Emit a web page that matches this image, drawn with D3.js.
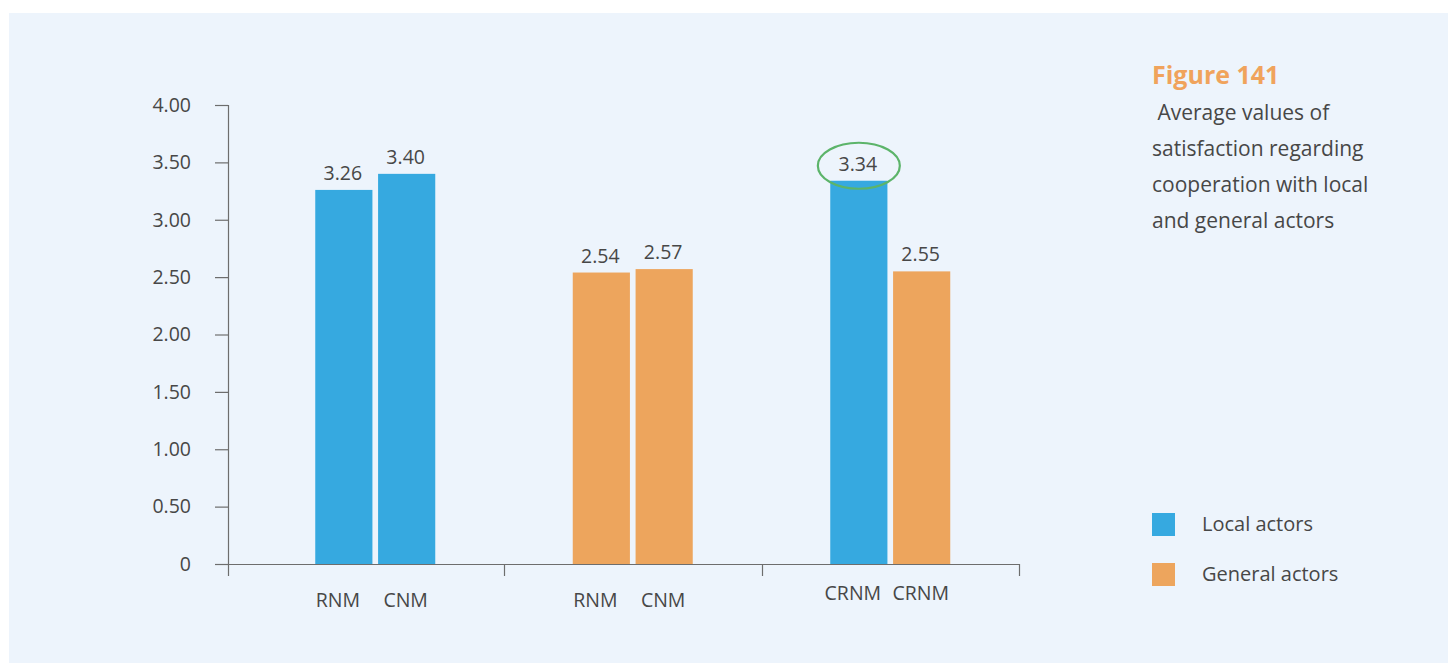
<!DOCTYPE html>
<html><head><meta charset="utf-8">
<script src="https://cdn.jsdelivr.net/npm/d3@7"></script>
<style>
html,body{margin:0;padding:0;background:#fff;}
svg{display:block;}
text{font-family:"Open Sans","Noto Sans",sans-serif;fill:#474747;}
</style></head>
<body>
<svg id="c" width="1448" height="663"></svg>
<script>
const groups = ["g1","g2","g3"];
const barLabels = [["RNM","CNM"],["RNM","CNM"],["CRNM","CRNM"]];
const barValues = [[3.26,3.40],[2.54,2.57],[3.34,2.55]];
const barSeries = [["Local actors","Local actors"],["General actors","General actors"],["Local actors","General actors"]];
const yTicks = [0,0.5,1,1.5,2,2.5,3,3.5,4];
const yTickLabels = ["0","0.50","1.00","1.50","2.00","2.50","3.00","3.50","4.00"];
const seriesNames = ["Local actors","General actors"];
const seriesColors = ["#36a9e0","#eda55d"];
const titleText = "Figure 141";
const subtitleLines = [" Average values of","satisfaction regarding","cooperation with local","and general actors"];
const highlighted = {group:2, bar:0};

const svg = d3.select("#c");
svg.append("rect").attr("x",9).attr("y",13).attr("width",1439).attr("height",650).attr("fill","#edf4fc");

const color = d3.scaleOrdinal().domain(seriesNames).range(seriesColors);
const y = d3.scaleLinear().domain([0,4]).range([564,105]);
const x0 = d3.scaleBand().domain(groups).range([246.5,1019]).paddingInner(0).paddingOuter(0);
const x1 = d3.scaleBand().domain([0,1]).range([-60,60]).paddingInner(0.09).paddingOuter(0);

const axisColor = "#6d6d6d";
const fs = "19.5px";
// y axis
const yAxis = d3.axisLeft(y).tickValues(yTicks).tickFormat((d,i)=>yTickLabels[i]).tickSize(13).tickPadding(24).tickSizeOuter(0);
const gy = svg.append("g").attr("transform","translate(228,0)").call(yAxis);
gy.select(".domain").remove();
gy.selectAll(".tick line").attr("stroke",axisColor).attr("stroke-width",1.2);
gy.selectAll(".tick text").style("font-size",fs).attr("fill","#474747");
svg.append("line").attr("x1",228.5).attr("x2",228.5).attr("y1",y(4)).attr("y2",576).attr("stroke",axisColor).attr("stroke-width",1.2);

// x axis baseline
svg.append("line").attr("x1",215).attr("x2",1019).attr("y1",564.5).attr("y2",564.5).attr("stroke",axisColor).attr("stroke-width",1.2);
const bounds = groups.map(g=>x0(g)+x0.bandwidth());
svg.selectAll(".xt").data(bounds).join("line").attr("class","xt")
  .attr("x1",d=>Math.round(d)+0.5).attr("x2",d=>Math.round(d)+0.5).attr("y1",564).attr("y2",576)
  .attr("stroke",axisColor).attr("stroke-width",1.2);

// bars
const gg = svg.selectAll(".grp").data(groups).join("g").attr("class","grp")
  .attr("transform",g=>`translate(${x0(g)+x0.bandwidth()/2},0)`);
gg.each(function(g,gi){
  const sel = d3.select(this);
  const data = barValues[gi].map((v,i)=>({v,i,label:barLabels[gi][i],series:barSeries[gi][i]}));
  sel.selectAll("rect").data(data).join("rect")
    .attr("x",d=>x1(d.i)).attr("width",x1.bandwidth())
    .attr("y",d=>y(d.v)).attr("height",d=>y(0)-y(d.v))
    .attr("fill",d=>color(d.series));
  sel.selectAll(".vl").data(data).join("text").attr("class","vl")
    .attr("x",d=>x1(d.i)+x1.bandwidth()/2 - 1).attr("y",d=>y(d.v)-10)
    .attr("text-anchor","middle").style("font-size",fs)
    .text(d=>d.v.toFixed(2));
  const labY = gi===2 ? 600 : 607;
  sel.selectAll(".cl").data(data).join("text").attr("class","cl")
    .attr("x",d=>x1(d.i)+x1.bandwidth()/2 + (d.i===0?-6:-1)).attr("y",labY)
    .attr("text-anchor","middle").style("font-size",fs)
    .text(d=>d.label);
  if(gi===highlighted.group){
    const d = data[highlighted.bar];
    sel.append("ellipse").attr("cx",x1(d.i)+x1.bandwidth()/2).attr("cy",y(d.v)-15)
      .attr("rx",41).attr("ry",23).attr("fill","none").attr("stroke","#5cb46a").attr("stroke-width",2.2);
  }
});

// title
svg.append("text").attr("x",1152).attr("y",84).text(titleText)
  .style("font-size","25px").style("font-weight","bold").style("fill","#f0a35c");
svg.selectAll(".sub").data(subtitleLines).join("text").attr("class","sub")
  .attr("x",1152).attr("y",(d,i)=>120+i*36).attr("xml:space","preserve").style("white-space","pre")
  .style("font-size","21px").text(d=>d);

// legend
const lg = svg.selectAll(".lg").data(seriesNames).join("g").attr("class","lg")
  .attr("transform",(d,i)=>`translate(1152,${513+i*50})`);
lg.append("rect").attr("width",23).attr("height",23).attr("fill",d=>color(d));
lg.append("text").attr("x",50).attr("y",18).style("font-size","20px").text(d=>d);
</script>
</body></html>
